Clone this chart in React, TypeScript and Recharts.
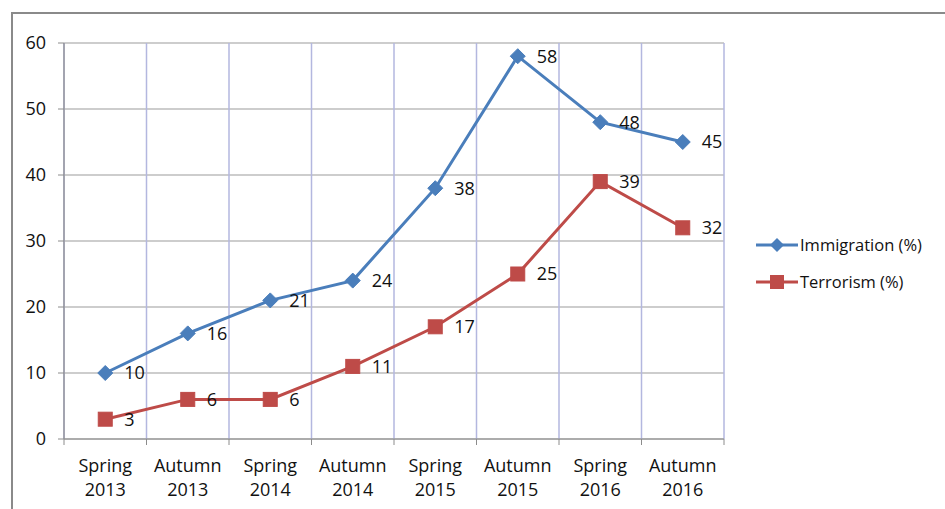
import React from "react";
import {
  LineChart,
  Line,
  CartesianGrid,
  XAxis,
  YAxis,
  LabelList,
} from "recharts";

const seasons = ["Spring", "Autumn", "Spring", "Autumn", "Spring", "Autumn", "Spring", "Autumn"];
const years = ["2013", "2013", "2014", "2014", "2015", "2015", "2016", "2016"];
const immigration = [10, 16, 21, 24, 38, 58, 48, 45];
const terrorism = [3, 6, 6, 11, 17, 25, 39, 32];
const yTicks = [0, 10, 20, 30, 40, 50, 60];
const edgeTicks = [0, 1, 2, 3, 4, 5, 6, 7, 8];

const BLUE = "#4A7EBB";
const RED = "#BE4B48";
const FONT = "'Open Sans', sans-serif";
const TEXT = "#111";

const W = 945;
const H = 509;
const PLOT_LEFT = 64;
const PLOT_RIGHT = 724;
const BAND = (PLOT_RIGHT - PLOT_LEFT) / seasons.length;

const data = seasons.map((s, i) => ({
  pos: i + 0.5,
  season: s,
  year: years[i],
  immigration: immigration[i],
  terrorism: terrorism[i],
}));

const Diamond = ({ cx, cy }: any) => {
  if (cx == null || cy == null) return null;
  const r = 7.5;
  return (
    <polygon
      points={`${cx},${cy - r} ${cx + r},${cy} ${cx},${cy + r} ${cx - r},${cy}`}
      fill={BLUE}
      stroke={BLUE}
    />
  );
};

const Square = ({ cx, cy }: any) => {
  if (cx == null || cy == null) return null;
  const s = 7;
  return <rect x={cx - s} y={cy - s} width={s * 2} height={s * 2} fill={RED} stroke={RED} />;
};

const XTick = ({ x, y, payload }: any) => {
  const i = payload.value;
  if (i >= seasons.length) return null;
  return (
    <text x={x + BAND / 2} y={y} textAnchor="middle" fill={TEXT} fontSize={18} fontFamily={FONT}>
      <tspan x={x + BAND / 2} dy={25}>
        {seasons[i]}
      </tspan>
      <tspan x={x + BAND / 2} dy={24}>
        {years[i]}
      </tspan>
    </text>
  );
};

const LegendItem = ({ color, label, square, top }: any) => (
  <div
    style={{
      position: "absolute",
      left: 755,
      top,
      display: "flex",
      alignItems: "center",
      fontFamily: FONT,
      fontSize: 16.5,
      color: TEXT,
    }}
  >
    <svg width={44} height={16}>
      <line x1={1} y1={8} x2={43} y2={8} stroke={color} strokeWidth={3} />
      {square ? (
        <rect x={15} y={1} width={14} height={14} fill={color} />
      ) : (
        <polygon points="22,1 29,8 22,15 15,8" fill={color} />
      )}
    </svg>
    <span style={{ marginLeft: 1 }}>{label}</span>
  </div>
);

const App = () => {
  return (
    <div
      style={{
        position: "absolute",
        left: 0,
        top: 0,
        width: W,
        height: H,
        background: "#fff",
        overflow: "hidden",
      }}
    >
      <div
        style={{
          position: "absolute",
          left: 11,
          top: 12,
          width: 960,
          height: 520,
          borderLeft: "2px solid #8a8a8a",
          borderTop: "2px solid #8a8a8a",
        }}
      />
      <LineChart
        width={W}
        height={H}
        data={data}
        margin={{ top: 43, right: W - PLOT_RIGHT, bottom: 0, left: 0 }}
        style={{ position: "absolute", left: 0, top: 0 }}
      >
        <CartesianGrid vertical={false} stroke="#9c9c9c" strokeWidth={1.2} />
        <CartesianGrid horizontal={false} stroke="#b3b7df" strokeWidth={1.5} verticalValues={edgeTicks} />
        <XAxis
          dataKey="pos"
          type="number"
          domain={[0, 8]}
          ticks={edgeTicks}
          interval={0}
          height={70}
          axisLine={{ stroke: "#8c8c8c", strokeWidth: 1.2 }}
          tickLine={{ stroke: "#8c8c8c" }}
          tickSize={6}
          tick={<XTick />}
        />
        <YAxis
          domain={[0, 60]}
          ticks={yTicks}
          width={PLOT_LEFT}
          axisLine={{ stroke: "#8c8c8c", strokeWidth: 1.2 }}
          tickLine={{ stroke: "#8c8c8c" }}
          tickSize={6}
          tickMargin={12}
          tick={{ fill: TEXT, fontSize: 18, fontFamily: FONT }}
        />
        <Line
          type="linear"
          dataKey="immigration"
          name="Immigration (%)"
          stroke={BLUE}
          strokeWidth={3}
          dot={<Diamond />}
          activeDot={false}
          isAnimationActive={false}
        >
          <LabelList
            dataKey="immigration"
            position="right"
            offset={19}
            fill={TEXT}
            fontSize={18}
            fontFamily={FONT}
          />
        </Line>
        <Line
          type="linear"
          dataKey="terrorism"
          name="Terrorism (%)"
          stroke={RED}
          strokeWidth={3}
          dot={<Square />}
          activeDot={false}
          isAnimationActive={false}
        >
          <LabelList
            dataKey="terrorism"
            position="right"
            offset={19}
            fill={TEXT}
            fontSize={18}
            fontFamily={FONT}
          />
        </Line>
      </LineChart>
      <LegendItem color={BLUE} label="Immigration (%)" top={233} />
      <LegendItem color={RED} label="Terrorism (%)" square top={270} />
    </div>
  );
};

export default App;
